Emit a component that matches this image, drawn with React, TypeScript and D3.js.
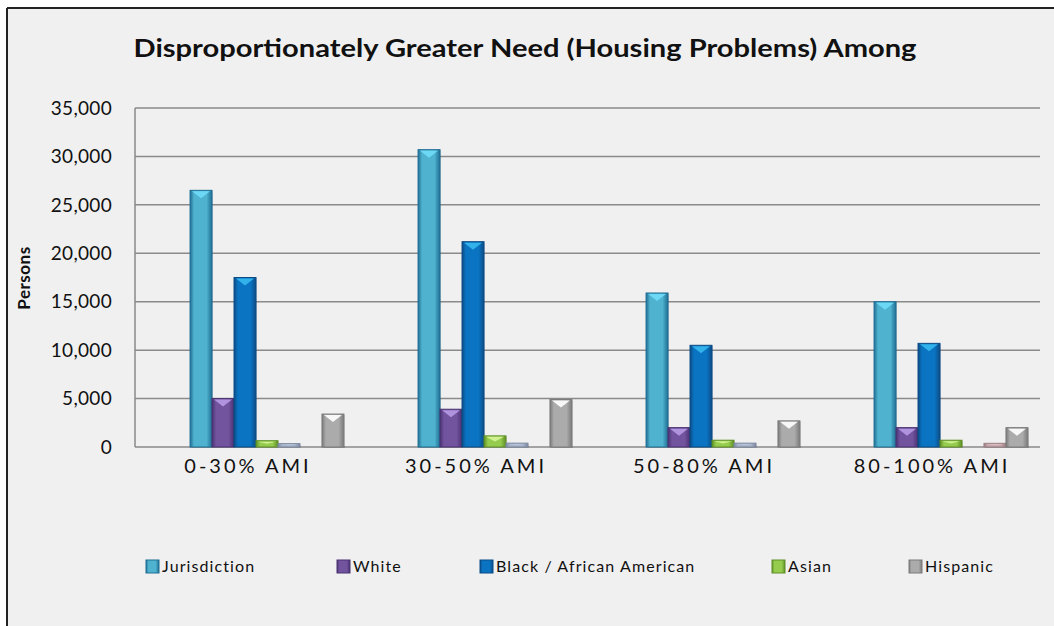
import React from "react";
import * as d3 from "d3";

const categories = ["0-30% AMI", "30-50% AMI", "50-80% AMI", "80-100% AMI"];
const seriesNames = [
  "Jurisdiction",
  "White",
  "Black / African American",
  "Asian",
  "American Indian, Alaska Native",
  "Pacific Islander",
  "Hispanic",
];
const jurisdiction = [26500, 30700, 15900, 15000];
const white = [5000, 3900, 2000, 2000];
const black = [17500, 21200, 10500, 10700];
const asian = [650, 1150, 700, 700];
const amIndian = [350, 400, 400, 0];
const pacific = [0, 0, 0, 380];
const hispanic = [3400, 4900, 2700, 2000];
const legendSeries = ["Jurisdiction", "White", "Black / African American", "Asian", "Hispanic"];
const yTicks = [0, 5000, 10000, 15000, 20000, 25000, 30000, 35000];

const seriesValues = [jurisdiction, white, black, asian, amIndian, pacific, hispanic];
const colors: Record<string, { face: string; edge: string; cap: string }> = {
  Jurisdiction: { face: "#4FB2CE", edge: "#1F6E94", cap: "#6FDcFA" },
  White: { face: "#72539E", edge: "#4A3272", cap: "#B79AE6" },
  "Black / African American": { face: "#0A74C2", edge: "#0B4C86", cap: "#36B8F0" },
  Asian: { face: "#96CC4E", edge: "#5E8F26", cap: "#D6F59A" },
  "American Indian, Alaska Native": { face: "#A7B4CA", edge: "#7D8AA2", cap: "#C8D2E4" },
  "Pacific Islander": { face: "#C7A9AE", edge: "#9C7F84", cap: "#E0C8CC" },
  Hispanic: { face: "#ABABAB", edge: "#7A7A7A", cap: "#FFFFFF" },
};

export default function App() {
  const W = 1054;
  const H = 626;
  const plotLeft = 135;
  const plotRight = 1040;
  const y = d3.scaleLinear().domain([0, 35000]).range([447, 108]);
  const x0 = d3
    .scaleBand<string>()
    .domain(categories)
    .range([153, 1065])
    .paddingInner(0.325)
    .paddingOuter(0.1625);
  const x1 = d3.scaleBand<string>().domain(seriesNames).range([0, x0.bandwidth()]);
  const fmt = d3.format(",");
  const font = "Lato, 'Open Sans', 'DejaVu Sans', sans-serif";

  const legendPos = [146, 337, 480, 772, 909];

  return (
    <svg
      width={W}
      height={H}
      style={{ position: "absolute", left: 0, top: 0, display: "block" }}
      fontFamily={font}
    >
      <defs>
        {seriesNames.map((s, i) => (
          <linearGradient key={s} id={`g${i}`} x1="0" x2="1" y1="0" y2="0">
            <stop offset="0" stopColor={colors[s].edge} />
            <stop offset="0.18" stopColor={colors[s].face} />
            <stop offset="0.75" stopColor={colors[s].face} />
            <stop offset="1" stopColor={colors[s].edge} />
          </linearGradient>
        ))}
      </defs>
      <rect x={0} y={0} width={W} height={H} fill="#ffffff" />
      <rect x={7} y={8} width={W - 7} height={H - 8} fill="#F0F0F0" />
      <line x1={7} y1={8} x2={W} y2={8} stroke="#222" strokeWidth={2} />
      <line x1={7} y1={8} x2={7} y2={H} stroke="#222" strokeWidth={2} />

      <text
        x={525}
        y={57}
        textAnchor="middle"
        fontSize={24}
        fontWeight="bold"
        fill="#111"
        textLength={783}
        lengthAdjust="spacingAndGlyphs"
      >
        Disproportionately Greater Need (Housing Problems) Among
      </text>

      {yTicks.map((t) => (
        <g key={t}>
          <line x1={plotLeft} x2={plotRight} y1={y(t)} y2={y(t)} stroke="#8A8A8A" strokeWidth={1.5} />
          <text x={112} y={y(t)} dy="0.35em" textAnchor="end" fontSize={19} fill="#111" letterSpacing={0.3}>
            {fmt(t)}
          </text>
        </g>
      ))}
      <line x1={plotLeft} x2={plotLeft} y1={y(35000)} y2={y(0)} stroke="#8A8A8A" strokeWidth={1.5} />

      <text
        transform={`translate(30,${278}) rotate(-90)`}
        textAnchor="middle"
        fontSize={17}
        fontWeight="bold"
        fill="#111"
        letterSpacing={0.5}
      >
        Persons
      </text>

      {categories.map((c, ci) => (
        <g key={c} transform={`translate(${x0(c)},0)`}>
          {seriesNames.map((s, si) => {
            const v = seriesValues[si][ci];
            if (!v) return null;
            const bx = x1(s)!;
            const bw = x1.bandwidth();
            const top = y(v);
            const h = y(0) - top;
            const capH = Math.min(8, h * 0.5);
            return (
              <g key={s}>
                <rect x={bx + 1} y={top + 1} width={bw} height={h} fill="#000" opacity={0.12} />
                <rect x={bx} y={top} width={bw} height={h} fill={`url(#g${si})`} stroke={colors[s].edge} strokeWidth={1} />
                <path
                  d={`M${bx + 2},${top + 1} L${bx + bw - 2},${top + 1} L${bx + bw / 2},${top + capH} Z`}
                  fill={colors[s].cap}
                  opacity={0.9}
                />
              </g>
            );
          })}
          <text
            x={x0.bandwidth() / 2 - 19}
            y={466}
            dy="0.35em"
            textAnchor="middle"
            fontSize={20}
            fill="#111"
            letterSpacing={3}
          >
            {c}
          </text>
        </g>
      ))}

      {legendSeries.map((s, i) => {
        const si = seriesNames.indexOf(s);
        const lx = legendPos[i];
        return (
          <g key={s} transform={`translate(${lx},566)`}>
            <rect x={0} y={-6} width={13} height={13} fill={`url(#g${si})`} stroke={colors[s].edge} strokeWidth={1} />
            <text x={16} y={0} dy="0.35em" fontSize={16} fill="#111" letterSpacing={1.1}>
              {s}
            </text>
          </g>
        );
      })}
    </svg>
  );
}
